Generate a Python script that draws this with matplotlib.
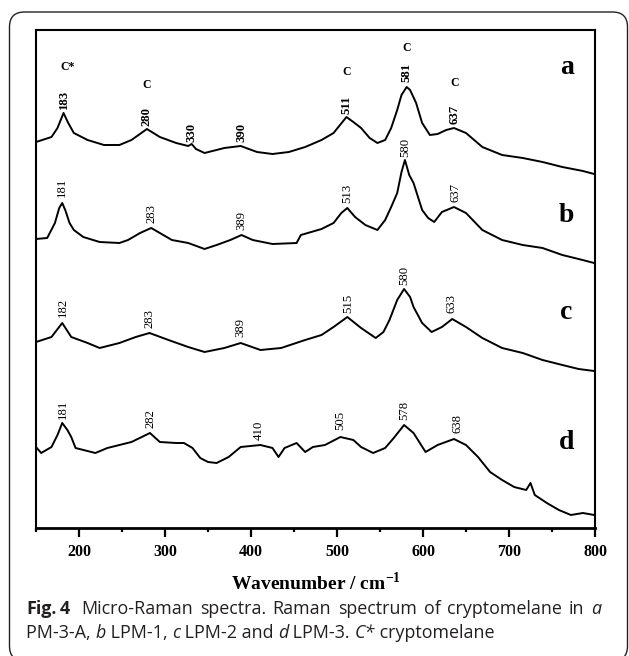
import matplotlib
matplotlib.use("Agg")
import matplotlib.pyplot as plt
from matplotlib.patches import FancyBboxPatch
from matplotlib.transforms import IdentityTransform

plt.rcParams["mathtext.fontset"] = "custom"
plt.rcParams["mathtext.rm"] = "Liberation Serif"
plt.rcParams["mathtext.bf"] = "Liberation Serif:bold"

# ---------------- data ----------------
wn_a = [150, 168, 175, 182, 187.5, 194, 210, 229, 247, 261, 279, 294, 313, 327, 331, 336, 346,
        369, 388, 407, 425, 444, 463, 482, 496, 511, 519, 528, 538, 547, 556, 563, 570, 575,
        581, 585, 592, 599, 608, 617, 627, 636, 650, 669, 692, 716, 739, 762, 786, 799]
int_a = [386, 391, 400, 415, 405, 395, 388, 383, 383, 388, 399, 391, 385, 382, 384, 379, 375,
         380, 382, 376, 374, 376, 381, 388, 395, 411, 406, 400, 390, 385, 388, 400, 418, 433,
         441, 438, 425, 405, 393, 394, 398, 400, 395, 381, 373, 370, 366, 361, 357, 354]

wn_b = [150, 163, 172, 177, 180.5, 184, 189, 194, 205, 224, 247, 257, 271, 284, 294, 308, 327,
        346, 360, 376, 389, 402, 425, 453, 458, 482, 496, 505, 512, 521, 533, 547, 556, 563,
        570, 575, 579, 584, 589, 599, 606, 613, 622, 636, 650, 669, 692, 716, 739, 762, 781, 799]
int_b = [289, 290, 305, 320, 325, 318, 305, 298, 291, 286, 285, 288, 295, 300, 295, 288, 285,
         279, 283, 288, 293, 288, 284, 285, 293, 299, 305, 315, 320, 311, 303, 298, 308, 321,
         335, 356, 368, 353, 345, 318, 310, 306, 316, 321, 315, 298, 288, 283, 280, 273, 269, 265]

wn_c = [150, 168, 180.5, 191, 210, 224, 247, 266, 282, 304, 327, 346, 369, 388, 411, 435, 463,
        482, 496, 512, 528, 545, 554, 561, 570, 578, 585, 589, 599, 610, 622, 634, 650, 669,
        692, 716, 739, 762, 781, 799]
int_c = [186, 191, 205, 191, 185, 180, 185, 191, 195, 188, 181, 176, 180, 185, 178, 180, 188,
         193, 201, 211, 200, 190, 196, 208, 228, 239, 231, 221, 205, 196, 201, 209, 201, 190,
         180, 175, 168, 163, 159, 157]

wn_d = [150, 156, 168, 175, 180.5, 186.5, 191, 196, 219, 233, 247, 261, 273, 282.5, 294, 313,
        322, 332, 341, 350, 360, 374, 388, 411, 425, 432, 439, 453, 463, 472, 486, 504, 519,
        528, 542, 556, 566, 578, 589, 603, 617, 636, 650, 664, 678, 692, 706, 720, 725, 730,
        744, 758, 772, 786, 799]
int_d = [81, 75, 81, 93, 105, 98, 91, 80, 75, 80, 83, 86, 91, 95, 86, 85, 85, 80, 70, 66, 65,
         71, 81, 83, 80, 71, 80, 85, 76, 81, 83, 91, 88, 81, 75, 80, 90, 103, 95, 76, 83, 89,
         83, 71, 56, 48, 41, 38, 45, 33, 25, 18, 13, 15, 13]

# peak labels: (wavenumber position, text, bottom of label)
labels_a = [(182, "183", 419), (279, "280", 402), (331, "330", 386), (389, "390", 386),
            (511, "511", 414), (581, "581", 446), (637, "637", 404)]
labels_b = [(180, "181", 331), (284, "283", 305), (389, "389", 298), (512, "513", 325),
            (579, "580", 371), (638, "637", 326)]
labels_c = [(181, "182", 211), (282, "283", 200), (388, "389", 191), (513, "515", 215),
            (578, "580", 243), (633, "633", 215)]
labels_d = [(181, "181", 109), (283, "282", 100), (409, "410", 88), (504, "505", 98),
            (578, "578", 108), (640, "638", 95)]
c_marks = [(187, "C*", 461), (279, "C", 443), (511, "C", 456), (581, "C", 480), (637, "C", 445)]
panel_letters = [("a", 461), ("b", 313), ("c", 216), ("d", 86)]

xticks = [200, 300, 400, 500, 600, 700, 800]
xlabel = "Wavenumber / cm$^{\\mathbf{-1}}$"

# ---------------- figure ----------------
W, H = 629, 656
fig = plt.figure(figsize=(W / 100, H / 100), dpi=100)
fig.patch.set_facecolor("white")

box = FancyBboxPatch((9.5, -5), 618, 649, boxstyle="round,pad=0,rounding_size=15",
                     transform=IdentityTransform(), facecolor="none", edgecolor="#222222",
                     linewidth=1.0)
fig.patches.append(box)

ax = fig.add_axes([36 / W, 1 - 528 / H, (595 - 36) / W, (528 - 30) / H])
serif = "Liberation Serif"

for wn, it in [(wn_a, int_a), (wn_b, int_b), (wn_c, int_c), (wn_d, int_d)]:
    ax.plot(wn, it, color="black", lw=1.4)

ax.set_xlim(150, 800)
ax.set_ylim(0, 498)
ax.set_yticks([])
ax.set_xticks(xticks)
ax.set_xticks(range(150, 801, 50), minor=True)
ax.tick_params(axis="x", which="major", direction="out", length=6.5, width=1.6, pad=5)
ax.tick_params(axis="x", which="minor", direction="out", length=3, width=1.6)
ax.tick_params(axis="x", top=False)
for lab in ax.get_xticklabels():
    lab.set_fontfamily(serif)
    lab.set_fontweight("bold")
    lab.set_fontsize(11.5)
for s in ax.spines.values():
    s.set_linewidth(1.5)
ax.spines["bottom"].set_linewidth(2.0)

ax.set_xlabel(xlabel, fontfamily=serif, fontweight="bold", fontsize=14, labelpad=8)

for x, t, y in labels_a:
    ax.text(x, y, t, rotation=90, ha="center", va="bottom", fontfamily=serif,
            fontweight="bold", fontsize=9.2)
for group in (labels_b, labels_c, labels_d):
    for x, t, y in group:
        ax.text(x, y, t, rotation=90, ha="center", va="bottom", fontfamily=serif,
                fontsize=9.2)
for x, t, y in c_marks:
    ax.text(x, y, t, ha="center", va="center", fontfamily=serif, fontweight="bold", fontsize=8.5)
for t, y in panel_letters:
    ax.text(767, y, t, ha="center", va="center", fontfamily=serif, fontweight="bold", fontsize=20)

# ---------------- caption ----------------
cap_font = "Open Sans"
cap_size = 12.9
cap_color = "#231f20"
line1 = [("Fig.", "bold", "normal"), ("4", "bold", "normal"), ("Micro-Raman", "normal", "normal"),
         ("spectra.", "normal", "normal"), ("Raman", "normal", "normal"), ("spectrum", "normal", "normal"),
         ("of", "normal", "normal"), ("cryptomelane", "normal", "normal"), ("in", "normal", "normal"),
         ("a", "normal", "italic")]
line2 = [("PM-3-A, ", "normal", "normal"), ("b", "normal", "italic"), (" LPM-1, ", "normal", "normal"),
         ("c", "normal", "italic"), (" LPM-2 and ", "normal", "normal"), ("d", "normal", "italic"),
         (" LPM-3. ", "normal", "normal"), ("C*", "normal", "italic"), (" cryptomelane", "normal", "normal")]

renderer = fig.canvas.get_renderer()
x_start = 26
x_end = 601


def make(txt, wt, st, x, y):
    return fig.text(x / W, y / H, txt, fontfamily=cap_font, fontweight=wt, fontstyle=st,
                    fontsize=cap_size, ha="left", va="baseline", color=cap_color)


# line 1: justified
y1 = H - 614
words = [make(t, wt, st, 0, y1) for t, wt, st in line1]
widths = [w.get_window_extent(renderer).width for w in words]
probe = make("a a", "normal", "normal", 0, -100)
pa = make("aa", "normal", "normal", 0, -100)
space = probe.get_window_extent(renderer).width - pa.get_window_extent(renderer).width
probe.remove()
pa.remove()
gaps = [space * 0.8] + [space * 2.4] + [space] * (len(words) - 3)
extra = (x_end - x_start) - sum(widths) - sum(gaps)
n_flex = len(gaps) - 2
gaps = gaps[:2] + [g + max(extra, 0) / n_flex for g in gaps[2:]]
x = x_start
for i, w in enumerate(words):
    w.set_x(x / W)
    x += widths[i]
    if i < len(gaps):
        x += gaps[i]

# line 2: left aligned
y2 = H - 638
x = x_start
for t, wt, st in line2:
    tt = make(t, wt, st, x, y2)
    x = tt.get_window_extent(renderer).x1

fig.savefig("out.png", dpi=100)
